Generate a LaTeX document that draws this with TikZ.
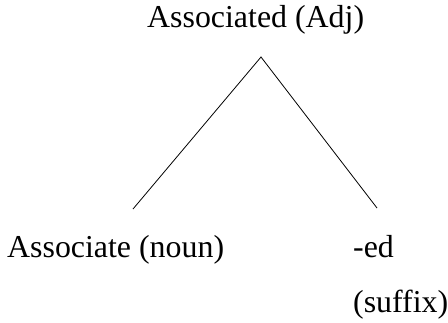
\documentclass[tikz,border=0pt]{standalone}
\usepackage{fontspec}
\setmainfont{Liberation Serif}
\begin{document}
\begin{tikzpicture}[x=1bp,y=-1bp,
  lbl/.style={font=\fontsize{32}{38}\selectfont, inner sep=0pt, anchor=base west},
  branch/.style={line width=0.8bp}]
\useasboundingbox (0,0) rectangle (448,322);
\node[lbl] (top) at (147,27) {Associated (Adj)};
\coordinate (apex) at (261,57);
\coordinate (lend) at (133,209);
\coordinate (rend) at (377,208);
\node[lbl] (noun) at (7,257) {Associate (noun)};
\node[lbl] (ed) at (353,257) {-ed};
\node[lbl] (suf) at (353,312) {(suffix)};
\draw[branch] (lend) -- (apex) -- (rend);
\end{tikzpicture}
\end{document}
